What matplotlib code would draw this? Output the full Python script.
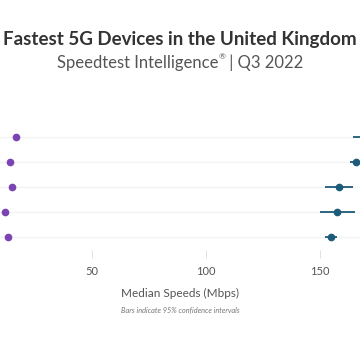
import matplotlib
matplotlib.use("Agg")
import matplotlib.pyplot as plt

# ================== 数据 ==================
rows = [0, 1, 2, 3, 4]
upload = [16.7, 14.0, 15.1, 11.8, 13.2]
download = [171.0, 165.7, 158.5, 157.5, 154.8]
dl_low = [164.5, 163.2, 152.2, 150.0, 152.2]
dl_high = [177.5, 168.2, 164.5, 165.3, 157.5]
xticks = [50, 100, 150]

PURPLE = "#7b44b3"
TEAL = "#1d5b7a"
GRID = "#f3f3f3"
TEXT = "#555555"

plt.rcParams['font.family'] = ['Lato', 'DejaVu Sans']

fig = plt.figure(figsize=(3.6, 3.6), dpi=100)
ax = fig.add_axes([0, 1 - 249.5 / 360, 1, 125 / 360])

for r in rows:
    ax.axhline(r, color=GRID, lw=1, zorder=0)

err_lo = [d - l for d, l in zip(download, dl_low)]
err_hi = [h - d for d, h in zip(download, dl_high)]
ax.errorbar(download, rows, xerr=[err_lo, err_hi], fmt='o', color=TEAL,
            ms=4.5, lw=1.3, capsize=0, zorder=3)
ax.plot(upload, rows, 'o', color=PURPLE, ms=4.5, zorder=3)

ax.set_xlim(9.65, 167.5)
ax.set_ylim(4.5, -0.5)
ax.set_yticks([])
ax.set_xticks(xticks)
ax.set_xticklabels([str(t) for t in xticks], color=TEXT, fontsize=8)
ax.tick_params(axis='x', length=6, width=0.6, color='#dddddd', pad=6)
for s in ax.spines.values():
    s.set_visible(False)

fig.text(0.5, 0.889, "Fastest 5G Devices in the United Kingdom", ha='center',
         va='center', fontsize=13.5, fontweight='bold', color='#333333')

# 副标题：® 用小号上标
t1 = fig.text(0, 0.825, "Speedtest Intelligence", ha='left', va='center',
              fontsize=12, color=TEXT)
t2 = fig.text(0, 0.842, "\u00ae", ha='left', va='center', fontsize=6, color=TEXT)
t3 = fig.text(0, 0.825, " | Q3 2022", ha='left', va='center', fontsize=12, color=TEXT)
fig.canvas.draw()
r = fig.canvas.get_renderer()
w = [t.get_window_extent(r).width / fig.bbox.width for t in (t1, t2, t3)]
x0 = 0.5 - sum(w) / 2
t1.set_x(x0)
t2.set_x(x0 + w[0])
t3.set_x(x0 + w[0] + w[1])

fig.text(0.5, 0.186, "Median Speeds (Mbps)", ha='center', va='center',
         fontsize=8.5, color=TEXT)
fig.text(0.5, 0.139, "Bars indicate 95% confidence intervals", ha='center',
         va='center', fontsize=5.3, style='italic', color='#777777')

fig.savefig("out.png", dpi=100)
